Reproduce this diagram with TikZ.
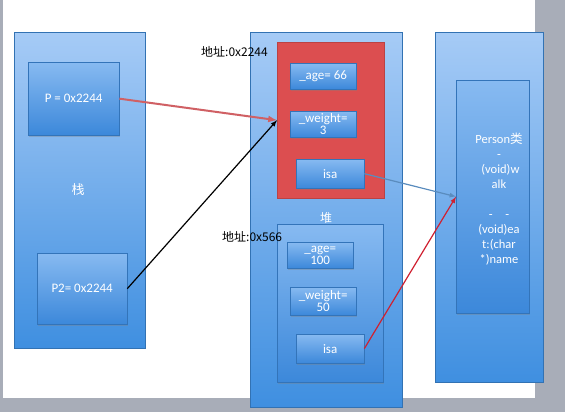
\documentclass[tikz,border=0pt]{standalone}
\usepackage{fontspec}
\setmainfont{Carlito}
\newfontfamily\cjk{Noto Sans CJK SC}
\usepackage{tikz}
\usetikzlibrary{shadows}

\definecolor{pagegray}{RGB}{168,173,184}
\definecolor{boxtop}{RGB}{166,203,246}
\definecolor{boxbot}{RGB}{63,143,224}
\definecolor{celltop}{RGB}{135,186,241}
\definecolor{cellbot}{RGB}{60,136,218}
\definecolor{objred}{RGB}{220,78,80}
\definecolor{ptrred}{RGB}{208,96,100}
\definecolor{isared}{RGB}{208,32,48}
\definecolor{isablue}{RGB}{90,140,190}

\begin{document}
\begin{tikzpicture}[x=1pt, y=-1pt,
  column/.style={anchor=north west, inner sep=0pt, draw=boxbot!80!black, line width=0.4pt,
    top color=boxtop, bottom color=boxbot},
  cell/.style={anchor=north west, inner sep=0pt, draw=cellbot!85!black, line width=0.3pt,
    top color=celltop, bottom color=cellbot,
    drop shadow={opacity=0.35, shadow xshift=1pt, shadow yshift=-1.5pt}},
  celltext/.style={text=white, font=\fontsize{13}{13}\selectfont, align=center},
  addr/.style={anchor=west, inner sep=0pt, font=\cjk\fontsize{12}{12}\selectfont}]
% page
\fill[pagegray] (0,0) rectangle (565,412);
\fill[white] (3,0) rectangle (535,398);
% stack
\node[column, minimum width=131pt, minimum height=316pt] (stack) at (14,32) {};
\node[celltext, font=\cjk\fontsize{13}{13}\selectfont] (stacklabel) at (78,190) {栈};
\node[cell, minimum width=91pt, minimum height=73pt] (p) at (28,62) {};
\node[celltext] (ptext) at (p.center) {P = 0x2244};
\node[cell, minimum width=90pt, minimum height=71pt] (ptwo) at (37,253) {};
\node[celltext] (ptwotext) at (ptwo.center) {P2= 0x2244};
% heap
\node[column, minimum width=152pt, minimum height=375pt] (heap) at (250,32) {};
\node[anchor=north west, inner sep=0pt, fill=objred, draw=objred!85!black,
  minimum width=107pt, minimum height=156pt] (objone) at (277,42) {};
\node[cell, minimum width=66pt, minimum height=26pt] (ageone) at (290,63) {};
\node[celltext] at (ageone.center) {\_age= 66};
\node[cell, minimum width=66pt, minimum height=26pt] (weightone) at (290,111) {};
\node[celltext] at (weightone.center) {\_weight=\\[-1pt]3};
\node[cell, minimum width=68pt, minimum height=29pt] (isaone) at (296,159) {};
\node[celltext] at (isaone.center) {isa};
\node[celltext, font=\cjk\fontsize{12}{12}\selectfont] (heaplabel) at (326,218) {堆};
\node[cell, minimum width=106pt, minimum height=158pt] (objtwo) at (277,224) {};
\node[cell, minimum width=66pt, minimum height=26pt] (agetwo) at (287,242) {};
\node[celltext] at (agetwo.center) {\_age=\\[-1pt]100};
\node[cell, minimum width=66pt, minimum height=28pt] (weighttwo) at (290,287) {};
\node[celltext] at (weighttwo.center) {\_weight=\\[-1pt]50};
\node[cell, minimum width=68pt, minimum height=29pt] (isatwo) at (296,334) {};
\node[celltext] at (isatwo.center) {isa};
% addresses
\node[addr] (addrone) at (201,52) {地址:0x2244};
\node[addr] (addrtwo) at (222,237) {地址:0x566};
% class
\node[column, minimum width=108pt, minimum height=350pt] (class) at (435,32) {};
\node[cell, minimum width=73pt, minimum height=233pt] (classin) at (456,80) {};
\node[celltext, font=\fontsize{12.5}{15}\selectfont, anchor=north] (methods) at (499,129)
  {Person{\cjk 类}\\-\\\ (void)w\\alk\\[15pt]-\quad-\\(void)ea\\t:(char\\*)name};
% pointers
\draw[->, >=latex, ptrred, line width=2pt] (p.east) -- (objone.west);
\draw[->, >=latex, black, line width=1.2pt] (ptwo.east) -- (objone.west);
\draw[->, >=latex, isablue, line width=1.2pt] (isaone.east) -- (classin.west);
\draw[->, >=latex, isared, line width=1.2pt] (isatwo.east) -- (classin.west);
\end{tikzpicture}
\end{document}
